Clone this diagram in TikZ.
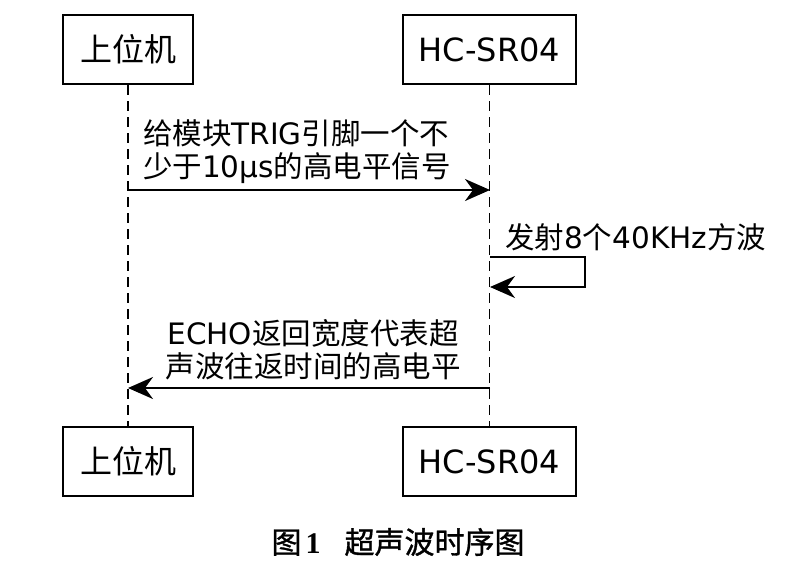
\documentclass[tikz,border=0pt]{standalone}
\usepackage{fontspec}
\setmainfont{DejaVu Sans}
\newfontfamily\cjk{Noto Sans CJK SC}
\newfontfamily\cjkb[FakeBold=1.2]{Noto Sans CJK SC}
\newfontfamily\capserif{Liberation Serif}
\usetikzlibrary{arrows.meta}
\newcommand\zh[1]{{\cjk #1}}
\begin{document}
\begin{tikzpicture}[x=1pt,y=-1pt,
  actor/.style={draw,line width=2.1pt,minimum width=130pt,minimum height=69pt,inner sep=0pt,font=\fontsize{32}{36}\selectfont},
  lifeline/.style={line width=1.7pt,dash pattern=on 10pt off 6pt},
  msg/.style={line width=2.1pt,-{Stealth[length=25pt,width=22pt,inset=8pt]}},
  lbl/.style={font=\fontsize{29.5}{33}\selectfont,inner sep=0pt}]
\useasboundingbox (0,0) rectangle (800,560);
\node[actor] (top1) at (128,49.5) {\zh{上位机}};
\node[actor,minimum width=173pt] (top2) at (489.5,49.5) {HC-SR04};
\node[actor] (bot1) at (128,461.5) {\zh{上位机}};
\node[actor,minimum width=173pt] (bot2) at (489.5,461.5) {HC-SR04};
\draw[lifeline] (top1.south) -- (bot1.north);
\draw[lifeline] (top2.south) -- (bot2.north);
% message 1
\coordinate (m1s) at (128,190);
\coordinate (m1e) at (490,190);
\draw[msg] (m1s) -- (m1e);
\node[lbl,align=left,anchor=west] (t1) at (143,152) {\zh{给模块}TRIG\zh{引脚一个不}\\\zh{少于}10μs\zh{的高电平信号}};
% self message
\coordinate (s1) at (490,257);
\coordinate (s2) at (585,257);
\coordinate (s3) at (585,287);
\coordinate (s4) at (490,287);
\draw[msg] (s1) -- (s2) -- (s3) -- (s4);
\node[lbl,anchor=west] (t2) at (505,237) {\zh{发射}8\zh{个}40KHz\zh{方波}};
% message 2
\coordinate (m2s) at (490,388);
\coordinate (m2e) at (128,388);
\draw[msg] (m2s) -- (m2e);
\node[lbl,align=center] (t3) at (313,350) {ECHO\zh{返回宽度代表超}\\\zh{声波往返时间的高电平}};
% caption
\node[font=\fontsize{30}{34}\selectfont,inner sep=0pt] (cap) at (398,542) {{\cjkb 图}\hspace{4pt}{\capserif\bfseries 1}\hspace{24pt}{\cjkb 超声波时序图}};
\end{tikzpicture}
\end{document}
